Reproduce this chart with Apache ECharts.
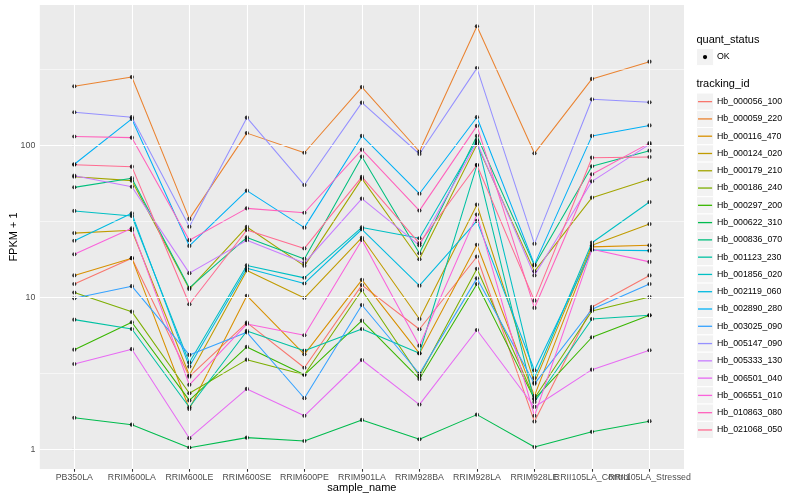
<!DOCTYPE html>
<html><head><meta charset="utf-8">
<script src="https://cdn.jsdelivr.net/npm/echarts@6/dist/echarts.min.js"></script>
<style>html,body{margin:0;padding:0;background:#fff}#c{width:800px;height:500px}</style>
</head><body><div id="c"></div>
<script>
// ---- data ----
const categories = ['PB350LA','RRIM600LA','RRIM600LE','RRIM600SE','RRIM600PE','RRIM901LA','RRIM928BA','RRIM928LA','RRIM928LE','RRII105LA_Control','RRII105LA_Stressed'];
const trackingIds = ['Hb_000056_100','Hb_000059_220','Hb_000116_470','Hb_000124_020','Hb_000179_210','Hb_000186_240','Hb_000297_200','Hb_000622_310','Hb_000836_070','Hb_001123_230','Hb_001856_020','Hb_002119_060','Hb_002890_280','Hb_003025_090','Hb_005147_090','Hb_005333_130','Hb_006501_040','Hb_006551_010','Hb_010863_080','Hb_021068_050'];
const trackingColors = ['#F8766D','#EA8331','#D89000','#C09B00','#A3A500','#7CAE00','#39B600','#00BB4E','#00BF7D','#00C1A3','#00BFC4','#00BAE0','#00B0F6','#35A2FF','#9590FF','#C77CFF','#E76BF3','#FA62DB','#FF62BC','#FF6C91'];
const quantStatus = ['OK'];
const yTickValues = [1, 10, 100];
const yMinorValues = [3.1623, 31.623, 316.23];

const Hb_000056_100 = [12.3, 18.2, 3.02, 6.85, 3.46, 12.1, 6.2, 18.6, 1.53, 8.69, 14.0];
const Hb_000059_220 = [246, 283, 33.0, 121, 89.9, 243, 91.6, 611, 89.1, 275, 357];
const Hb_000116_470 = [14.0, 18.2, 1.85, 10.3, 4.24, 13.1, 4.3, 22.3, 2.26, 21.6, 22.1];
const Hb_000124_020 = [26.6, 27.8, 3.09, 15.1, 9.95, 24.8, 7.24, 40.9, 2.76, 22.1, 30.5];
const Hb_000179_210 = [62.5, 58.9, 11.4, 29.2, 16.2, 60.7, 17.9, 102, 14.9, 45.5, 60.1];
const Hb_000186_240 = [10.8, 8.09, 2.35, 3.91, 3.11, 11.2, 3.05, 15.5, 2.18, 8.18, 10.1];
const Hb_000297_200 = [4.55, 6.89, 2.11, 4.74, 3.11, 7.06, 2.92, 12.3, 2.15, 5.49, 7.66];
const Hb_000622_310 = [1.62, 1.46, 1.03, 1.20, 1.14, 1.57, 1.17, 1.70, 1.04, 1.31, 1.54];
const Hb_000836_070 = [53.2, 61.1, 11.6, 24.9, 18.0, 84.7, 19.6, 116, 16.3, 73.2, 92.7];
const Hb_001123_230 = [7.17, 6.22, 1.90, 6.04, 4.48, 6.22, 4.31, 74.6, 2.06, 7.24, 7.66];
const Hb_001856_020 = [37.2, 34.5, 3.74, 16.3, 13.5, 29.0, 24.6, 109, 2.96, 23.0, 42.6];
const Hb_002119_060 = [23.7, 35.9, 3.52, 15.6, 12.4, 28.2, 12.0, 32.0, 3.33, 20.6, 20.4];
const Hb_002890_280 = [75.5, 150, 21.9, 50.6, 28.9, 116, 48.3, 154, 16.5, 116, 136];
const Hb_003025_090 = [9.91, 11.9, 4.20, 5.92, 2.18, 8.95, 3.16, 13.4, 2.71, 8.39, 12.3];
const Hb_005147_090 = [166, 154, 29.3, 153, 55.1, 192, 88.2, 324, 22.6, 202, 193];
const Hb_005333_130 = [63.5, 53.7, 14.5, 23.9, 16.9, 44.8, 22.1, 105, 14.0, 58.3, 102];
const Hb_006501_040 = [3.66, 4.58, 1.19, 2.51, 1.67, 3.89, 1.98, 6.13, 1.91, 3.36, 4.51];
const Hb_006551_010 = [19.3, 28.6, 2.67, 6.71, 5.66, 24.0, 4.83, 35.2, 1.67, 20.8, 17.2];
const Hb_010863_080 = [115, 113, 23.9, 38.7, 36.2, 94.1, 37.4, 135, 8.56, 64.9, 104];
const Hb_021068_050 = [75.0, 72.8, 9.05, 27.9, 21.1, 62.3, 22.8, 74.6, 9.56, 83.4, 84.3];

const seriesValues = [Hb_000056_100, Hb_000059_220, Hb_000116_470, Hb_000124_020, Hb_000179_210, Hb_000186_240, Hb_000297_200, Hb_000622_310, Hb_000836_070, Hb_001123_230, Hb_001856_020, Hb_002119_060, Hb_002890_280, Hb_003025_090, Hb_005147_090, Hb_005333_130, Hb_006501_040, Hb_006551_010, Hb_010863_080, Hb_021068_050];

// ---- chart ----
const FONT = '"Liberation Sans", Arial, Helvetica, sans-serif';
const chart = echarts.init(document.getElementById('c'), null, {renderer: 'canvas'});
const catIdx = categories.map((c, i) => i);
// labels split over two overlaid axes so none is auto-hidden (ggplot lets the last two overlap)
const labelIdxA = catIdx.filter(i => i % 2 === 0);
const labelIdxB = catIdx.filter(i => i % 2 === 1);

const series = [];
series.push({
  type: 'line', data: [], z: 1, silent: true, animation: false,
  markLine: {
    silent: true, symbol: ['none', 'none'], label: {show: false}, animation: false,
    data: [
      ...yMinorValues.map(v => ({yAxis: v, lineStyle: {color: '#FFFFFF', width: 0.55, type: 'solid'}})),
      ...yTickValues.map(v => ({yAxis: v, lineStyle: {color: '#FFFFFF', width: 1.1, type: 'solid'}})),
      ...catIdx.map(i => ({xAxis: i, lineStyle: {color: '#FFFFFF', width: 1.1, type: 'solid'}}))
    ]
  }
});
trackingIds.forEach((id, k) => {
  series.push({
    type: 'line', name: id, z: 2, silent: true, animation: false,
    data: seriesValues[k].map((v, i) => [i, v]),
    showSymbol: false, symbol: 'none',
    lineStyle: {color: trackingColors[k], width: 1.05},
    itemStyle: {color: trackingColors[k]}
  });
});
const pts = [];
seriesValues.forEach(arr => arr.forEach((v, i) => pts.push([i, v])));
series.push({
  type: 'scatter', name: quantStatus[0], z: 3, silent: true, animation: false,
  data: pts, symbol: 'circle', symbolSize: 4.2, itemStyle: {color: '#000000'}
});

// legend drawn as graphic (ggplot-style keys)
const graphic = [];
const LX = 696.4, KEY = 17.28;
graphic.push({type: 'text', x: LX, y: 40, style: {text: 'quant_status', font: '11px ' + FONT, fill: '#000', verticalAlign: 'middle'}});
graphic.push({type: 'rect', shape: {x: LX, y: 48.4, width: KEY, height: KEY}, style: {fill: '#F2F2F2', stroke: '#FFFFFF', lineWidth: 1}});
graphic.push({type: 'circle', shape: {cx: LX + KEY / 2, cy: 48.4 + KEY / 2, r: 2.1}, style: {fill: '#000'}});
graphic.push({type: 'text', x: 717, y: 48.4 + KEY / 2, style: {text: quantStatus[0], font: '8.8px ' + FONT, fill: '#000', verticalAlign: 'middle'}});
graphic.push({type: 'text', x: LX, y: 84, style: {text: 'tracking_id', font: '11px ' + FONT, fill: '#000', verticalAlign: 'middle'}});
trackingIds.forEach((id, k) => {
  const y0 = 93 + k * KEY;
  graphic.push({type: 'rect', shape: {x: LX, y: y0, width: KEY, height: KEY}, style: {fill: '#F2F2F2', stroke: '#FFFFFF', lineWidth: 1}});
  graphic.push({type: 'line', shape: {x1: LX + 1.6, y1: y0 + KEY / 2, x2: LX + KEY - 1.6, y2: y0 + KEY / 2}, style: {stroke: trackingColors[k], lineWidth: 1.3}});
  graphic.push({type: 'text', x: 717, y: y0 + KEY / 2, style: {text: id, font: '8.8px ' + FONT, fill: '#000', verticalAlign: 'middle'}});
});

const xLabelStyle = {formatter: v => categories[Math.round(v)], color: '#4D4D4D', fontSize: 8.8, fontFamily: FONT, margin: 4.5, hideOverlap: false, showMinLabel: true, showMaxLabel: true};

chart.setOption({
  animation: false,
  backgroundColor: '#FFFFFF',
  grid: {left: 39.8, right: 116, top: 5, bottom: 31, show: true, backgroundColor: '#EBEBEB', borderWidth: 0, containLabel: false, outerBoundsMode: 'none'},
  xAxis: [{
    type: 'value', min: -0.6, max: 10.6, position: 'bottom',
    axisLine: {show: false}, splitLine: {show: false},
    axisTick: {show: true, length: 2.75, lineStyle: {color: '#333333', width: 1.07}, customValues: catIdx},
    axisLabel: Object.assign({customValues: labelIdxA}, xLabelStyle),
    name: 'sample_name', nameLocation: 'middle', nameGap: 13, nameMoveOverlap: false,
    nameTextStyle: {color: '#000', fontSize: 11, fontFamily: FONT}
  }, {
    type: 'value', min: -0.6, max: 10.6, position: 'bottom', offset: 0,
    axisLine: {show: false}, splitLine: {show: false},
    axisTick: {show: false, customValues: labelIdxB},
    axisLabel: Object.assign({customValues: labelIdxB}, xLabelStyle)
  }],
  yAxis: {
    type: 'log', logBase: 10, min: 0.746, max: 843,
    axisLine: {show: false}, splitLine: {show: false}, minorSplitLine: {show: false},
    axisTick: {show: true, length: 2.75, lineStyle: {color: '#333333', width: 1.07}, customValues: yTickValues},
    axisLabel: {customValues: yTickValues, formatter: v => String(Math.round(v)), color: '#4D4D4D', fontSize: 8.8, fontFamily: FONT, margin: 4.5, showMinLabel: true, showMaxLabel: true},
    name: 'FPKM + 1', nameLocation: 'middle', nameGap: 20, nameMoveOverlap: false,
    nameTextStyle: {color: '#000', fontSize: 11, fontFamily: FONT}
  },
  graphic: graphic,
  series: series
});
</script>
</body></html>
